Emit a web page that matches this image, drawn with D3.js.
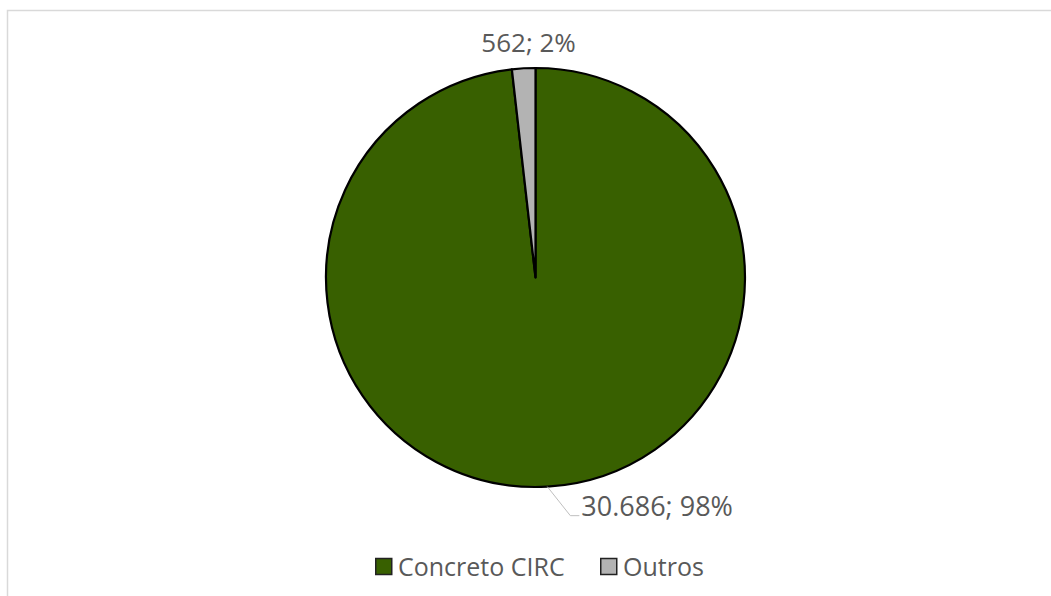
<!DOCTYPE html>
<html><head><meta charset="utf-8">
<script src="https://cdn.jsdelivr.net/npm/d3@7"></script>
<style>html,body{margin:0;padding:0;background:#fff;overflow:hidden}</style>
</head><body>
<svg id="c" width="1051" height="596"></svg>
<script>
const categories = ["Concreto CIRC", "Outros"];
const values = [30686, 562];
const labels = ["30.686; 98%", "562; 2%"];
const colors = ["#386000", "#b3b3b3"];

const svg = d3.select("#c");
const font = "'Open Sans', 'DejaVu Sans', sans-serif";

// chart frame
svg.append("rect").attr("x", 7.5).attr("y", 10.5).attr("width", 1060).attr("height", 600)
  .attr("fill", "#fff").attr("stroke", "#d9d9d9").attr("stroke-width", 1.5);

const cx = 535.5, cy = 277.5, r = 209.5;
const pie = d3.pie().sort(null).value(d => d);
const arcs = pie(values);
const arc = d3.arc().innerRadius(0).outerRadius(r);

const g = svg.append("g").attr("transform", `translate(${cx},${cy})`);
g.selectAll("path").data(arcs).join("path")
  .attr("d", arc)
  .attr("fill", (d, i) => colors[i])
  .attr("stroke", "#000").attr("stroke-width", 2.2).attr("stroke-linejoin", "round");

const txtColor = "#595959";
// Outros label (above the slice)
const a1 = arcs[1];
const mid1 = (a1.startAngle + a1.endAngle) / 2;
g.append("text")
  .attr("x", Math.sin(mid1) * (r + 20) + 6)
  .attr("y", -Math.cos(mid1) * (r + 20) + 4)
  .attr("text-anchor", "middle")
  .attr("font-family", font).attr("font-size", 26).attr("fill", txtColor)
  .text(labels[1]);

// Concreto label with leader line
const a0 = arcs[0];
const mid0 = (a0.startAngle + a0.endAngle) / 2;
const p0 = [Math.sin(mid0) * r, -Math.cos(mid0) * r];
const lx = p0[0] + 23, ly = p0[1] + 29;
g.append("polyline")
  .attr("points", `${p0[0]},${p0[1]} ${lx},${ly} ${lx + 9},${ly}`)
  .attr("fill", "none").attr("stroke", "#bfbfbf").attr("stroke-width", 1);
g.append("text")
  .attr("x", lx + 11).attr("y", ly)
  .attr("font-family", font).attr("font-size", 27).attr("fill", txtColor)
  .text(labels[0]);

// legend
const legend = svg.append("g").attr("transform", "translate(0,566.5)");
const legX = [375, 600];
categories.forEach((c, i) => {
  const lg = legend.append("g").attr("transform", `translate(${legX[i]},0)`);
  lg.append("rect").attr("x", 0.75).attr("y", -8).attr("width", 16).attr("height", 16)
    .attr("fill", colors[i]).attr("stroke", "#222").attr("stroke-width", 1.5);
  lg.append("text").attr("x", 23).attr("y", 9)
    .attr("font-family", font).attr("font-size", 25).attr("fill", txtColor).text(c);
});
</script>
</body></html>
